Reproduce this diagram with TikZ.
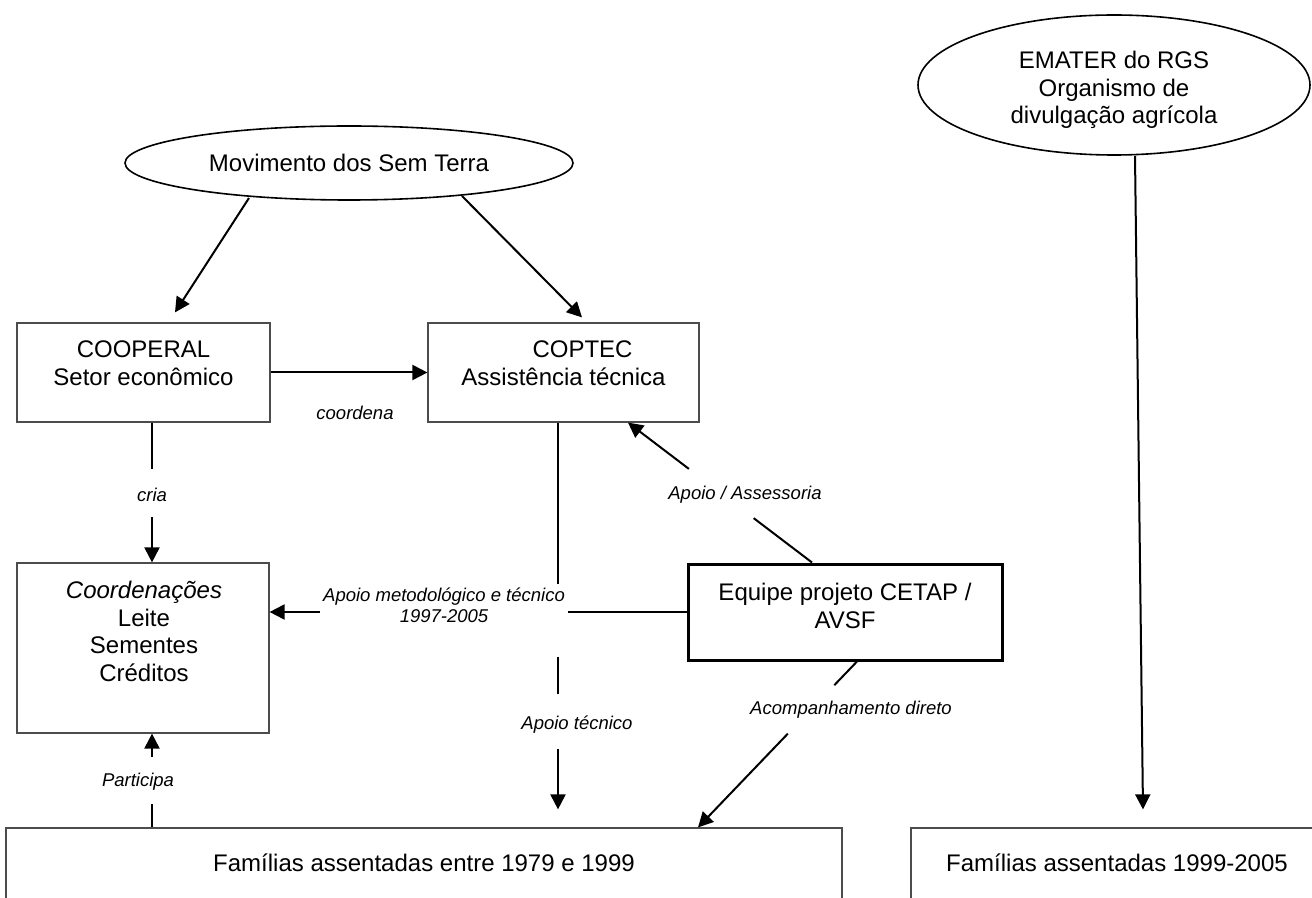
\documentclass[tikz,border=0pt]{standalone}
\usepackage{fontspec}
\setmainfont{Liberation Sans}
\usetikzlibrary{arrows.meta,calc,shapes.geometric}
\begin{document}
\begin{tikzpicture}[x=0.5pt,y=-0.5pt,
  box/.style={draw=black!70,line width=0.6pt,rectangle,inner sep=0pt},
  thickbox/.style={draw=black,line width=1.5pt,rectangle,inner sep=0pt},
  oval/.style={draw,ellipse,line width=0.8pt,inner sep=0pt,align=center,font=\fontsize{12}{13.8}\selectfont},
  txt/.style={align=center,inner sep=0pt,font=\fontsize{12}{13.8}\selectfont},
  lbl/.style={align=center,inner sep=1.5pt,font=\fontsize{9.25}{10.5}\selectfont\itshape},
  con/.style={line width=1pt},
  arr/.style={line width=1pt,-{Triangle[length=7.5pt,width=7.5pt]}}]
\useasboundingbox (0,0) rectangle (1312,898);

% ellipses
\node[oval,minimum width=224pt,minimum height=37pt] (mst) at (349,163) {Movimento dos Sem Terra};
\node[oval,minimum width=196pt,minimum height=70pt] (emater) at (1114,85) {};
\node[txt] (ematert) at (1114,90) {EMATER do RGS\\Organismo de\\divulgação agrícola};

% boxes
\node[box,minimum width=126.5pt,minimum height=49.5pt] (cooperal) at (143.5,372.5) {};
\node[txt] (cooperalt) at (143.5,363.5) {COOPERAL\\Setor econômico};
\node[box,minimum width=135.5pt,minimum height=49.5pt] (coptec) at (563.5,372.5) {};
\node[txt] (coptect) at (563.5,363.5) {\hspace*{19pt}COPTEC\\Assistência técnica};
\node[box,minimum width=126pt,minimum height=85pt] (coord) at (143,648) {};
\node[txt] (coordt) at (144,631.5) {\textit{Coordenações}\\Leite\\Sementes\\Créditos};
\node[thickbox,minimum width=157pt,minimum height=48pt] (equipe) at (845,612) {};
\node[txt] (equipet) at (845,606) {Equipe projeto CETAP /\\AVSF};
\node[box,minimum width=418pt,minimum height=40pt] (fam1) at (424,868) {};
\node[txt] (fam1t) at (424,863) {Famílias assentadas entre 1979 e 1999};
\node[box,minimum width=206pt,minimum height=40pt] (fam2) at (1117,868) {};
\node[txt] (fam2t) at (1117,863) {Famílias assentadas 1999-2005};

% labels
\node[lbl] (coordena) at (355,413) {coordena};
\node[lbl] (cria) at (152,495) {cria};
\node[lbl] (participa) at (138,782) {Participa};
\node[lbl] (metod) at (444,605) {Apoio metodológico e técnico\\1997-2005};
\node[lbl] (apoiotec) at (577,725) {Apoio técnico};
\node[lbl] (assess) at (745,495) {Apoio / Assessoria};
\node[lbl] (acomp) at (851,710) {Acompanhamento direto};

% connectors
\draw[arr] ($(mst.center)+(-100,35)$) -- ($(cooperal.north)+(31.5,-10)$);
\draw[arr] ($(mst.center)+(113,33)$) -- ($(coptec.north)+(18.5,-5)$);
\draw[arr] (cooperal.east) -- (coptec.west);

\coordinate (lx) at (152,0);
\draw[con] (cooperal.south -| lx) -- ++(0,46);
\draw[arr] ($(cria)+(0,22)$) -- (coord.north -| lx);
\draw[con] (fam1.north -| lx) -- ++(0,-23);
\draw[arr] ($(participa.center -| lx)+(0,-25)$) -- (coord.south -| lx);

\draw[con] (equipe.west) -- (metod.east |- equipe.west);
\draw[arr] (metod.west |- equipe.west) -- (coord.east |- equipe.west);

\coordinate (v0) at ($(coptec.south)+(-5.5,0)$);
\draw[con] (v0) -- ++(0,161);
\draw[con] (v0) ++(0,234) -- ++(0,37);
\draw[arr,shorten >=9pt] (v0) ++(0,326) -- (fam1.north -| v0);

\coordinate (a1) at ($(equipe.north)+(-33,0)$);
\coordinate (b1) at ($(coptec.south)+(64.5,0)$);
\draw[con] (a1) -- ($(a1)!0.317!(b1)$);
\draw[arr] ($(a1)!0.669!(b1)$) -- (b1);

\coordinate (a2) at ($(equipe.south)+(12,0)$);
\coordinate (b2) at ($(fam1.north)+(274,0)$);
\draw[con] (a2) -- ($(a2)!0.143!(b2)$);
\draw[arr] ($(a2)!0.435!(b2)$) -- (b2);

\draw[arr] ($(emater.south)+(21,0)$) -- ($(fam2.north)+(26,-18)$);
\end{tikzpicture}
\end{document}
